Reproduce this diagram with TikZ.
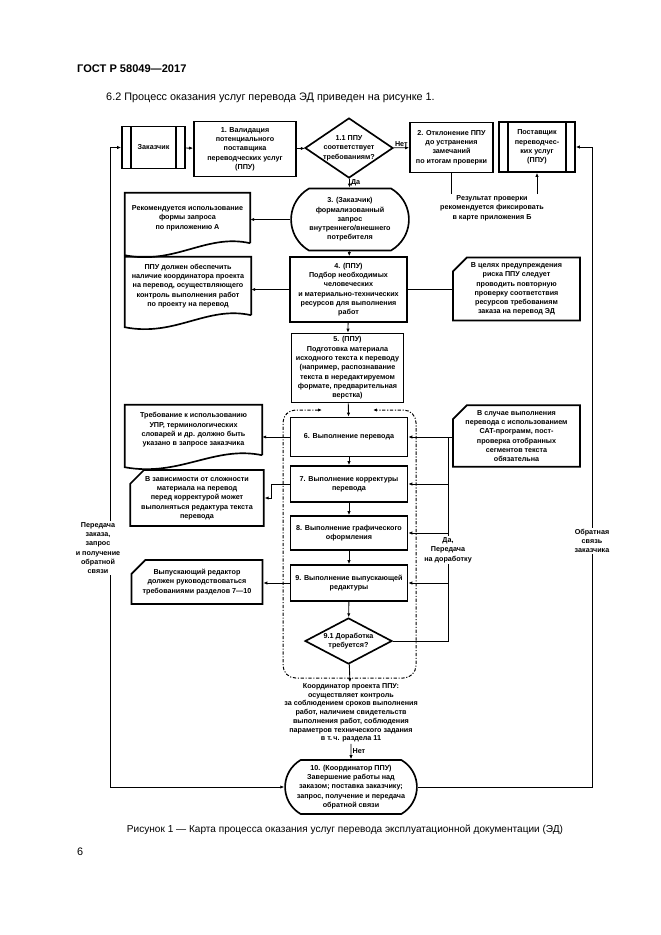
\documentclass[tikz,border=0pt]{standalone}
\usepackage{fontspec}
\setmainfont{Liberation Sans}
\usetikzlibrary{positioning,calc,shapes.geometric,shapes.misc,arrows.meta}

% wavy-bottomed document outline around a node
\newcommand{\docshape}[1]{%
  \draw[docline] (#1.south east) -- (#1.north east) -- (#1.north west) -- ($(#1.south west)+(0,12)$)
    .. controls ($(#1.south west)!0.4!(#1.south east)+(0,22)$) and ($(#1.south west)!0.65!(#1.south east)+(0,-10)$) .. (#1.south east);}

\begin{document}
\begin{tikzpicture}[
  x=0.03175cm, y=-0.03175cm,
  base/.style = {
    font=\fontsize{6.5}{8.4}\selectfont\bfseries,
    align=center,
    inner sep=1pt,
  },
  sz/.style 2 args = {
    minimum width=#1*0.03175cm,
    minimum height=#2*0.03175cm,
  },
  box/.style = {
    base,
    draw,
    rectangle,
    line width=1.5pt,
  },
  predef/.style = {
    box,
    path picture={
      \draw[line width=1.1pt]
        ([xshift=9*0.03175cm]path picture bounding box.north west) -- ([xshift=9*0.03175cm]path picture bounding box.south west)
        ([xshift=-9*0.03175cm]path picture bounding box.north east) -- ([xshift=-9*0.03175cm]path picture bounding box.south east);
    },
  },
  dec/.style = {
    base,
    draw,
    diamond,
    line width=1.5pt,
    inner sep=-1pt,
  },
  term/.style = {
    base,
    draw,
    rounded rectangle,
    rounded rectangle arc length=120,
    line width=1.5pt,
  },
  card/.style = {
    base,
    draw,
    chamfered rectangle,
    chamfered rectangle corners=north west,
    chamfered rectangle xsep=9pt,
    line width=1.5pt,
  },
  docu/.style = {
    base,
    rectangle,
  },
  docline/.style = {line width=1.5pt},
  link/.style = {line width=0.8pt},
  grp/.style = {
    line width=0.9pt,
    dash pattern=on 3pt off 1.5pt on 1pt off 1.5pt,
    rounded corners=4mm,
  },
  page/.style = {font=\fontsize{9.8}{12}\selectfont},
  >={Latex[length=3.6pt,width=3pt]},
]

  \useasboundingbox (0,0) rectangle (661,935);

  % page text
  \node[page,font=\fontsize{10}{12}\selectfont\bfseries,anchor=base west,inner sep=0] (hdr) at (77,72) {ГОСТ Р 58049—2017};
  \node[page,anchor=base west,inner sep=0] (intro) at (106,100) {6.2 Процесс оказания услуг перевода ЭД приведен на рисунке 1.};
  \node[page,font=\fontsize{9.1}{11}\selectfont,anchor=base,inner sep=0] (cap) at (345,832) {Рисунок 1 — Карта процесса оказания услуг перевода эксплуатационной документации (ЭД)};
  \node[page,anchor=base west,inner sep=0] (pnum) at (77,855) {6};

  % top row
  \node[predef,sz={63}{42}] (zak) at (153.5,147.5) {Заказчик};
  \node[box,sz={102}{55}] (v1) at (245,149) {1. Валидация\\потенциального\\поставщика\\переводческих услуг\\(ППУ)};
  \node[dec,aspect=1.5,sz={88}{60}] (d11) at (349,148) {1.1 ППУ\\соответствует\\требованиям?};
  \node[box,sz={83}{50}] (rej) at (451.5,147.5) {2. Отклонение ППУ\\до устранения\\замечаний\\по итогам проверки};
  \node[predef,sz={76}{50}] (ppu) at (537,147) {Поставщик\\переводчес-\\ких услуг\\(ППУ)};
  \node[base] (res) at (492,208) {Результат проверки\\рекомендуется фиксировать\\в карте приложения Б};

  % main column
  \node[term,sz={120}{62}] (t3) at (350,219.5) {3. (Заказчик)\\формализованный\\запрос\\внутреннего/внешнего\\потребителя};
  \node[box,sz={117}{65}] (b4) at (348.5,289.5) {4. (ППУ)\\Подбор необходимых\\человеческих\\и материально-технических\\ресурсов для выполнения\\работ};
  \node[box,sz={112}{69}] (b5) at (347.5,368) {5. (ППУ)\\Подготовка материала\\исходного текста к переводу\\(например, распознавание\\текста в нередактируемом\\формате, предварительная\\верстка)};
  \node[box,sz={117}{39}] (b6) at (349,437) {6. Выполнение перевода};
  \node[box,sz={117}{36}] (b7) at (349,484) {7. Выполнение корректуры\\перевода};
  \node[box,sz={117}{34}] (b8) at (349,533) {8. Выполнение графического\\оформления};
  \node[box,sz={117}{36}] (b9) at (349,583) {9. Выполнение выпускающей\\редактуры};
  \node[dec,aspect=2,sz={87}{46}] (d91) at (348.5,641) {9.1 Доработка\\требуется?};
  \node[base,font=\fontsize{6.5}{7.9}\selectfont\bfseries] (crd) at (351,713) {Координатор проекта ППУ:\\осуществляет контроль\\за соблюдением сроков выполнения\\работ, наличием свидетельств\\выполнения работ, соблюдения\\параметров технического задания\\в т.\,ч. раздела 11};
  \node[term,sz={134}{54}] (t10) at (351,787) {10. (Координатор ППУ)\\Завершение работы над\\заказом; поставка заказчику;\\запрос, получение и передача\\обратной связи};

  % notes on the left
  \node[docu,sz={125}{50}] (dA) at (187.5,218) {Рекомендуется использование\\формы запроса\\по приложению А};
  \node[docu,sz={126}{58}] (dB) at (188,286) {ППУ должен обеспечить\\наличие координатора проекта\\на перевод, осуществляющего\\контроль выполнения работ\\по проекту на перевод};
  \node[docu,sz={137}{50}] (dD) at (193.5,430) {Требование к использованию\\УПР, терминологических\\словарей и др. должно быть\\указано в запросе заказчика};
  \node[card,sz={131}{56}] (cF) at (197,498) {В зависимости от сложности\\материала на перевод\\перед корректурой может\\выполняться редактура текста\\перевода};
  \node[card,sz={131}{44}] (cG) at (197,582) {Выпускающий редактор\\должен руководствоваться\\требованиями разделов 7—10};
  \docshape{dA}
  \docshape{dB}
  \docshape{dD}

  % notes on the right
  \node[card,sz={127}{62}] (cC) at (516.5,289) {В целях предупреждения\\риска ППУ следует\\проводить повторную\\проверку соответствия\\ресурсов требованиям\\заказа на перевод ЭД};
  \node[card,sz={127}{60}] (cE) at (516.5,436) {В случае выполнения\\перевода с использованием\\CAT-программ, пост-\\проверка отобранных\\сегментов текста\\обязательна};

  % loop labels
  \node[base] (lblL) at (98,548) {Передача\\заказа,\\запрос\\и получение\\обратной\\связи};
  \node[base] (lblR) at (592,541) {Обратная\\связь\\заказчика};
  \node[base] (lblRw) at (448,550) {Да,\\Передача\\на доработку};

  % stage 6-9.1 frame
  \draw[grp,{Latex[length=3.6pt,width=3pt]}-{Latex[length=3.6pt,width=3pt]}]
    (322,410) -- (283,410) -- (283,678) -- (416,678) -- (416,410) -- (373,410);

  \coordinate (lx) at (110,0);
  \coordinate (rx) at (592,0);
  \coordinate (rw) at (448,0);

  % main flow
  \draw[link,->] (zak) -- (v1);
  \draw[link,->] (v1) -- (d11);
  \draw[link,->] (d11) -- node[base,above] {Нет} (rej);
  \draw[link,->] (d11) -- node[base,right] {Да} (t3);
  \draw[link,->] (t3) -- (b4);
  \draw[link,->] (b4) -- (b5);
  \draw[link,->] (b5) -- (b6);
  \draw[link,->] (b6) -- (b7);
  \draw[link,->] (b7) -- (b8);
  \draw[link,->] (b8) -- (b9);
  \draw[link,->] (b9) -- (d91);
  \draw[link,->] (d91) -- (crd);
  \draw[link,->] (crd) -- node[base,right] {Нет} (t10);

  % check result
  \draw[link] (rej.south) -- (rej.south |- res.north);
  \draw[link,->] (ppu.south |- res.north) -- (ppu.south);

  % notes
  \draw[link,->] (t3.west) -- (t3.west -| dA.east);
  \draw[link,->] (b4.west) -- (b4.west -| dB.east);
  \draw[link] (b4.east) -- (b4.east -| cC.west);
  \draw[link,->] (b6.west) -- (b6.west -| dD.east);
  \draw[link,->] (b7.west) -- ++(-18,0) |- (cF.east);
  \draw[link,->] (b9.west) -- (b9.west -| cG.east);

  % rework loop
  \draw[link] (d91.east) -| (lblRw.south -| rw);
  \draw[link] (lblRw.north -| rw) -- (rw |- b6.east) -- (cE.west |- b6.east);
  \foreach \b in {b6,b7,b8,b9}
    \draw[link,->] (rw |- \b.east) -- (\b.east);

  % feedback loops
  \draw[link,->] (lblL.north -| lx) |- (zak.west);
  \draw[link,->] (lblL.south -| lx) |- (t10.west);
  \draw[link,->] (lblR.north -| rx) |- (ppu.east);
  \draw[link] (lblR.south -| rx) |- (t10.east);

\end{tikzpicture}
\end{document}
